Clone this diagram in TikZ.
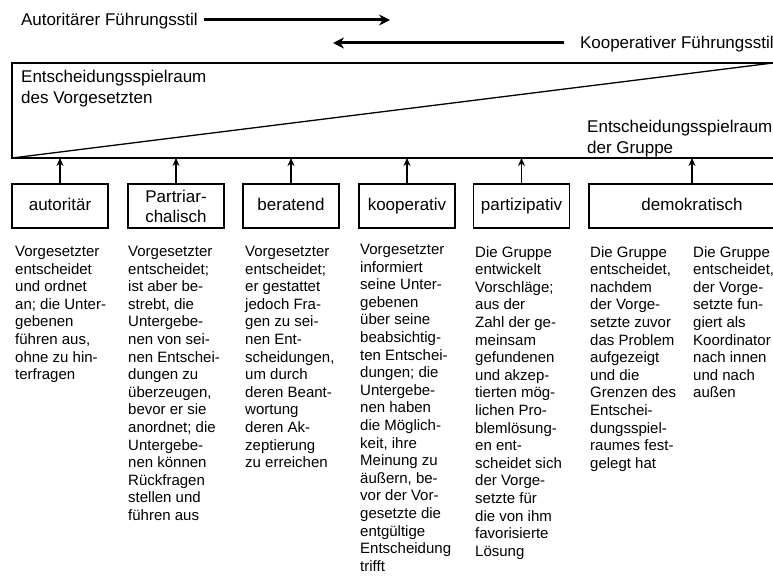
\documentclass[tikz,border=0pt]{standalone}
\usepackage{fontspec}
\setmainfont{Liberation Sans}
\usetikzlibrary{arrows.meta}
\tikzset{
	stilbox/.style={draw, line width=1.3pt, minimum width=96pt, minimum height=44pt, inner sep=0pt, align=center, font=\fontsize{17}{20}\selectfont},
	einzeilig/.style={text height=12.2pt, text depth=3.6pt},
	spalte/.style={anchor=north west, inner sep=0pt, align=left, font=\fontsize{15}{17.6}\selectfont},
	kopf/.style={anchor=north west, inner sep=0pt, align=left, font=\fontsize{17}{20.5}\selectfont},
	richtung/.style={anchor=base west, inner sep=0pt, font=\fontsize{17}{20}\selectfont},
	hochpfeil/.style={line width=1.3pt, -{Stealth[length=8pt,width=7pt]}},
	stilpfeil/.style={line width=3pt, -{Stealth[length=11pt,width=11pt]}}
}

\begin{document}
\begin{tikzpicture}[x=1pt, y=-1pt]
		%%%%% START %%%%%
		\useasboundingbox (0,0) rectangle (773,577);
		\clip (0,0) rectangle (773,577);
		
		\node[richtung, outer xsep=6pt] (autlbl) at (15,26) {Autoritärer Führungsstil};
		\coordinate (autend) at (390,20);
		\draw[stilpfeil] (autlbl.east |- autend) -- (autend);
		
		\node[richtung, outer xsep=16pt] (koolbl) at (564,49) {Kooperativer Führungsstil};
		\coordinate (kooend) at (333,43);
		\draw[stilpfeil] (koolbl.west |- kooend) -- (kooend);
		
		\draw[line width=1.3pt] (12,63) rectangle (790,158);
		\draw[line width=1.3pt] (12,158) -- (773,63);
		\coordinate (basis) at (0,158);
		
		\node[kopf] (vorges) at (21,70) {Entscheidungsspielraum\\des Vorgesetzten};
		\node[kopf] (gruppe) at (587,120) {Entscheidungsspielraum\\der Gruppe};
		
		\node[stilbox, einzeilig] (autor) at (60,206) {autoritär};
		\node[stilbox] (patri) at (176,206) {Partriar-\\chalisch};
		\node[stilbox, einzeilig] (berat) at (291,206) {beratend};
		\node[stilbox, einzeilig] (koop) at (407,206) {kooperativ};
		\node[stilbox, einzeilig] (parti) at (521.5,206) {partizipativ};
		\node[stilbox, einzeilig, minimum width=206pt] (demo) at (692,206) {demokratisch};
		
		\foreach \b in {autor,patri,berat,koop,parti,demo}
			\draw[hochpfeil] (\b.north) -- (\b.north |- basis);
		
		\node[spalte] (autortxt) at (15,246) {Vorgesetzter\\entscheidet\\und ordnet\\an; die Unter-\\gebenen\\führen aus,\\ohne zu hin-\\terfragen};
		\node[spalte] (patritxt) at (128,246) {Vorgesetzter\\entscheidet;\\ist aber be-\\strebt, die\\Untergebe-\\nen von sei-\\nen Entschei-\\dungen zu\\überzeugen,\\bevor er sie\\anordnet; die\\Untergebe-\\nen können\\Rückfragen\\stellen und\\führen aus};
		\node[spalte] (berattxt) at (245,246) {Vorgesetzter\\entscheidet;\\er gestattet\\jedoch Fra-\\gen zu sei-\\nen Ent-\\scheidungen,\\um durch\\deren Beant-\\wortung\\deren Ak-\\zeptierung\\zu erreichen};
		\node[spalte] (kooptxt) at (360,244) {Vorgesetzter\\informiert\\seine Unter-\\gebenen\\über seine\\beabsichtig-\\ten Entschei-\\dungen; die\\Untergebe-\\nen haben\\die Möglich-\\keit, ihre\\Meinung zu\\äußern, be-\\vor der Vor-\\gesetzte die\\entgültige\\Entscheidung\\trifft};
		\node[spalte] (partitxt) at (475,246) {Die Gruppe\\entwickelt\\Vorschläge;\\aus der\\Zahl der ge-\\meinsam\\gefundenen\\und akzep-\\tierten mög-\\lichen Pro-\\blemlösung-\\en ent-\\scheidet sich\\der Vorge-\\setzte für\\die von ihm\\favorisierte\\Lösung};
		\node[spalte] (demotxta) at (590,246) {Die Gruppe\\entscheidet,\\nachdem\\der Vorge-\\setzte zuvor\\das Problem\\aufgezeigt\\und die\\Grenzen des\\Entschei-\\dungsspiel-\\raumes fest-\\gelegt hat};
		\node[spalte] (demotxtb) at (693,246) {Die Gruppe\\entscheidet,\\der Vorge-\\setzte fun-\\giert als\\Koordinator\\nach innen\\und nach\\außen};
		
		%%%%% END %%%%%
\end{tikzpicture}
\end{document}
